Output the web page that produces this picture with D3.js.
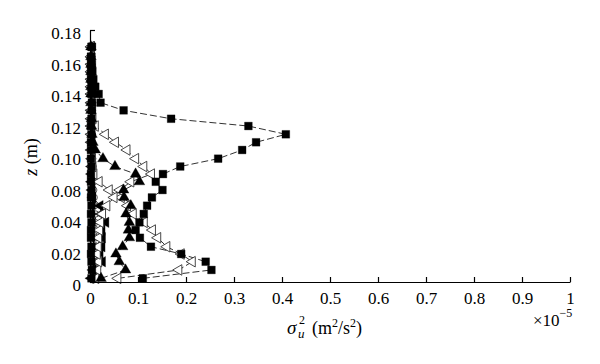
<!DOCTYPE html>
<html lang="en">
<head>
<meta charset="utf-8">
<title>Streamwise velocity variance profiles</title>
<style>
  body { margin: 0; background: #fff; }
  svg text { font-family: "Liberation Serif", "Times New Roman", "DejaVu Serif", serif !important; fill: #000; }
</style>
</head>
<body>
<script src="https://cdn.jsdelivr.net/npm/d3@7"></script>
<script>
// Width and height
var w = 600, h = 364;
var plotLeft = 90, plotRight = 570, plotTop = 30, plotBottom = 282;

// measurement heights z (m), bottom to top
var zLevels = [0.0026, 0.0086, 0.0145, 0.0200, 0.0252, 0.0316, 0.0371, 0.0426, 0.0486, 0.0545,
               0.0604, 0.0657, 0.0716, 0.0771, 0.0825, 0.0881, 0.0943, 0.0998, 0.1055, 0.1114,
               0.1166, 0.1226, 0.1281, 0.1343, 0.1395, 0.1448, 0.1502, 0.1555, 0.1609, 0.1680];

// sigma_u^2 (x 1e-5 m^2/s^2) at each height
var squaresFar = [0.110, 0.253, 0.241, 0.190, 0.127, 0.104, 0.095, 0.103, 0.112, 0.119,
                  0.129, 0.151, 0.137, 0.152, 0.188, 0.267, 0.317, 0.346, 0.408, 0.330,
                  0.169, 0.070, 0.022, 0.018, 0.011, 0.007, 0.005, 0.004, 0.003, 0.004];
var trianglesUp = [0.023, 0.074, 0.061, 0.054, 0.068, 0.082, 0.080, 0.082, 0.075, 0.085,
                   0.071, 0.070, 0.103, 0.095, 0.052, 0.027, 0.011, 0.006, 0.004, 0.003,
                   0.003, 0.002, 0.002, 0.002, 0.002, 0.002, 0.002, 0.002, 0.002, 0.002];
var openLeftUpper = [0.012, 0.016, 0.018, 0.015, 0.017, 0.018, 0.020, 0.022, 0.026, 0.035,
                     0.050, 0.062, 0.085, 0.128, 0.112, 0.095, 0.077, 0.053, 0.032, 0.011,
                     0.006, 0.004, 0.004, 0.003, 0.003, 0.003, 0.003, 0.003, 0.003, 0.003];
var openLeftLower = [0.058, 0.185, 0.213, 0.190, 0.160, 0.141, 0.130, 0.113, 0.090, 0.078,
                     0.065, 0.040, 0.019, 0.008, 0.006, 0.005, 0.004, 0.004, 0.003, 0.003,
                     0.003, 0.003, 0.003, 0.003, 0.003, 0.003, 0.003, 0.003, 0.003, 0.003];
var filledLeft = [0.002, 0.006, 0.026, 0.021, 0.025, 0.026, 0.025, 0.033, 0.023, 0.021,
                  0.006, 0.004, 0.003, 0.003, 0.003, 0.003, 0.002, 0.002, 0.002, 0.002,
                  0.002, 0.002, 0.002, 0.002, 0.002, 0.002, 0.002, 0.002, 0.002, 0.002];
var squaresNear = [0.003, 0.004, 0.003, 0.002, 0.003, 0.002, 0.002, 0.003, 0.002, 0.003,
                   0.002, 0.003, 0.002, 0.002, 0.003, 0.002, 0.002, 0.002, 0.003, 0.002,
                   0.003, 0.004, 0.004, 0.003, 0.003, 0.002, 0.002, 0.002, 0.002, 0.003];
var circlesNear = [0.010, 0.014, 0.012, 0.015, 0.013, 0.012, 0.014, 0.011, 0.012, 0.010,
                   0.009, 0.008, 0.008, 0.007, 0.007, 0.006, 0.006, 0.006, 0.005, 0.005,
                   0.005, 0.005, 0.004, 0.004, 0.004, 0.004, 0.004, 0.004, 0.004, 0.004];
var diamondsNear = [0.006, 0.008, 0.007, 0.007, 0.008, 0.007, 0.006, 0.007, 0.006, 0.006,
                    0.006, 0.005, 0.005, 0.005, 0.006, 0.005, 0.005, 0.005, 0.006, 0.005,
                    0.005, 0.006, 0.007, 0.006, 0.005, 0.005, 0.005, 0.005, 0.005, 0.005];

// tick labels as printed on the original figure
var xTickValues = [0, 0.1, 0.2, 0.3, 0.4, 0.5, 0.6, 0.7, 0.8, 0.9, 1];
var xTickLabels = ["0", "0.1", "0.2", "0.3", "0.4", "0.5", "0.6", "0.7", "0.8", "0.9", "1"];
var yTickLabels = ["0", "0.02", "0.04", "0.08", "0.10", "0.12", "0.14", "0.16", "0.18"];

var series = [
  { values: circlesNear,   shape: "circle",   fill: "#fff", stroke: "#444" },
  { values: diamondsNear,  shape: "diamond",  fill: "#000", stroke: "#000" },
  { values: filledLeft,    shape: "leftTri",  fill: "#000", stroke: "#000" },
  { values: openLeftLower, shape: "leftTri",  fill: "#fff", stroke: "#333" },
  { values: openLeftUpper, shape: "leftTri",  fill: "#fff", stroke: "#333" },
  { values: trianglesUp,   shape: "upTri",    fill: "#000", stroke: "#000" },
  { values: squaresFar,    shape: "square",   fill: "#000", stroke: "#000" },
  { values: squaresNear,   shape: "square",   fill: "#000", stroke: "#000" }
];

// Create scale functions
var xScale = d3.scaleLinear().domain([0, 1]).range([plotLeft, plotRight]);
var yScale = d3.scaleLinear().domain([0, 0.18]).range([plotBottom, plotTop]);

// Create SVG element
var svg = d3.select("body").append("svg")
            .attr("width", w)
            .attr("height", h);

// lines
var line = d3.line()
             .x(function(d) { return xScale(d[0]); })
             .y(function(d) { return yScale(d[1]); });

series.forEach(function(s) {
  var pts = s.values.map(function(v, i) { return [v, zLevels[i]]; });
  s.pts = pts;
  svg.append("path")
     .datum(pts)
     .attr("d", line)
     .attr("fill", "none")
     .attr("stroke", "#333")
     .attr("stroke-width", 1)
     .attr("stroke-dasharray", "7,3");
});

// markers
var symbols = {
  square: d3.symbol().type(d3.symbolSquare).size(60),
  upTri: d3.symbol().type(d3.symbolTriangle).size(50),
  leftTri: d3.symbol().type(d3.symbolTriangle).size(48),
  circle: d3.symbol().type(d3.symbolCircle).size(30),
  diamond: d3.symbol().type(d3.symbolDiamond).size(30)
};

series.forEach(function(s) {
  svg.append("g")
     .selectAll("path")
     .data(s.pts)
     .enter()
     .append("path")
     .attr("d", symbols[s.shape])
     .attr("transform", function(d) {
        var rot = s.shape === "leftTri" ? " rotate(-90)" : "";
        return "translate(" + xScale(d[0]) + "," + yScale(d[1]) + ")" + rot;
     })
     .attr("fill", s.fill)
     .attr("stroke", s.stroke)
     .attr("stroke-width", s.fill === "#fff" ? 0.9 : 0.3);
});

// axes
var xAxis = d3.axisBottom(xScale)
              .tickValues(xTickValues)
              .tickFormat(function(d, i) { return xTickLabels[i]; })
              .tickSize(-5)
              .tickSizeOuter(0)
              .tickPadding(10);

var yAxis = d3.axisLeft(yScale)
              .tickValues(yTickLabels.map(function(d, i) { return i * 0.18 / (yTickLabels.length - 1); }))
              .tickFormat(function(d, i) { return yTickLabels[i]; })
              .tickSize(-5)
              .tickSizeOuter(0)
              .tickPadding(9);

var gx = svg.append("g")
   .attr("transform", "translate(0," + plotBottom + ")")
   .call(xAxis);
var gy = svg.append("g")
   .attr("transform", "translate(" + plotLeft + ",0)")
   .call(yAxis);

[gx, gy].forEach(function(g) {
  g.attr("font-family", null).attr("font-size", null);
  g.select(".domain").attr("stroke", "#000").attr("stroke-width", 1.2);
  g.selectAll(".tick line").attr("stroke", "#000").attr("stroke-width", 1.2);
  g.selectAll("text")
   .attr("font-size", "17px")
   .attr("fill", "#000");
});
gy.selectAll("text").attr("dy", "0.5em");

// axis titles
var yTitle = svg.append("text")
   .attr("transform", "translate(37,157) rotate(-90)")
   .attr("text-anchor", "middle")
   .attr("font-size", "18px");
yTitle.append("tspan").attr("font-style", "italic").text("z");
yTitle.append("tspan").text(" (m)");

svg.append("text").attr("x", 287).attr("y", 334)
   .attr("font-size", "19px").attr("font-style", "italic").text("σ");
svg.append("text").attr("x", 299).attr("y", 324)
   .attr("font-size", "12px").text("2");
svg.append("text").attr("x", 298).attr("y", 338)
   .attr("font-size", "13px").attr("font-style", "italic").text("u");

var unit = svg.append("text").attr("x", 312).attr("y", 334).attr("font-size", "18px");
unit.append("tspan").text("(m");
unit.append("tspan").attr("font-size", "12px").attr("dy", -7).text("2");
unit.append("tspan").attr("dy", 7).text("/s");
unit.append("tspan").attr("font-size", "12px").attr("dy", -7).text("2");
unit.append("tspan").attr("dy", 7).text(")");

var mult = svg.append("text").attr("x", 533).attr("y", 326).attr("font-size", "17px");
mult.append("tspan").text("×10");
mult.append("tspan").attr("font-size", "12px").attr("dy", -9).text("−5");
</script>
</body>
</html>
